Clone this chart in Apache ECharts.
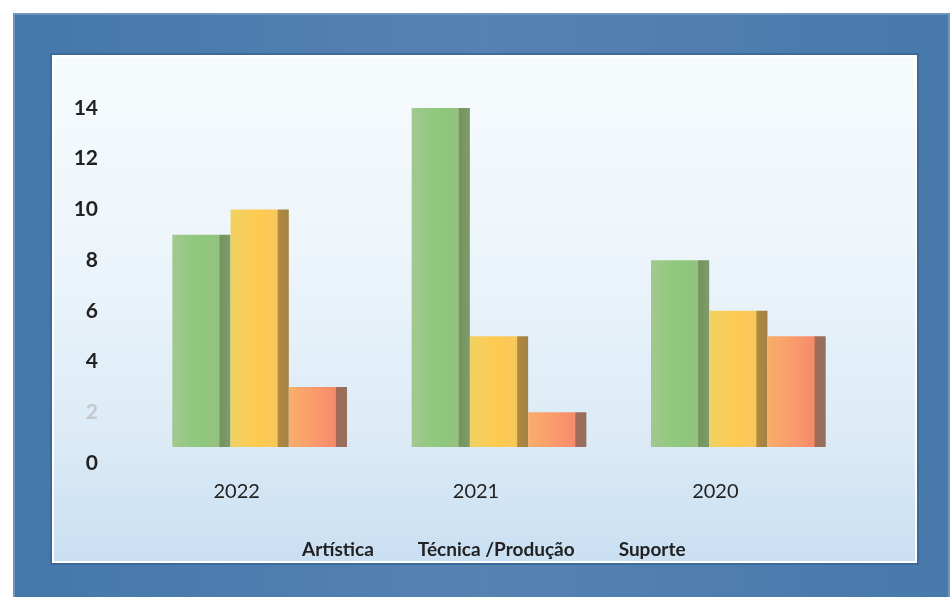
<!DOCTYPE html>
<html>
<head>
<meta charset="utf-8">
<script src="https://cdn.jsdelivr.net/npm/echarts@6/dist/echarts.min.js"></script>
<style>
html,body{margin:0;padding:0;background:#ffffff;}
#c{width:950px;height:597px;}
</style>
</head>
<body>
<div id="c"></div>
<script>
const categories = ['2022', '2021', '2020'];
const seriesNames = ['Artística', 'Técnica /Produção', 'Suporte'];
const artistica = [9, 14, 8];
const tecnica = [10, 5, 6];
const suporte = [3, 2, 5];
const yTicks = [0, 2, 4, 6, 8, 10, 12, 14];

const chart = echarts.init(document.getElementById('c'));

function hGrad(stops) {
  return new echarts.graphic.LinearGradient(0, 0, 1, 0, stops.map((c, i) => ({offset: c[0], color: c[1]})));
}
const bgStops = [
  {offset: 0, color: '#f6fbfd'},
  {offset: 0.35, color: '#eef6fb'},
  {offset: 0.75, color: '#dcebf6'},
  {offset: 1, color: '#c9dff2'}
];
function bgGrad() {
  return new echarts.graphic.LinearGradient(0, 55, 0, 563, bgStops, true);
}

const greenFill = hGrad([[0, '#a3c88f'], [0.4, '#8ec97d'], [0.8, '#93c17f'], [0.82, '#74935f'], [1, '#7f9b6b']]);
const yellowFill = hGrad([[0, '#efd262'], [0.45, '#ffca52'], [0.8, '#f7c85a'], [0.82, '#b08a3f'], [1, '#a38046']]);
const salmonFill = hGrad([[0, '#f8ae6a'], [0.45, '#fb9a6c'], [0.8, '#f58b6a'], [0.82, '#a06b58'], [1, '#94705f']]);

const option = {
  animation: false,
  graphic: [
    {type: 'rect', z: -20, silent: true, shape: {x: 14, y: 14, width: 935, height: 600},
     style: {fill: new echarts.graphic.LinearGradient(0, 0, 1, 0, [
       {offset: 0, color: '#4478aa'}, {offset: 0.5, color: '#5682b2'}, {offset: 1, color: '#4779ab'}]),
       stroke: '#6f95bd', lineWidth: 2}},
    {type: 'rect', z: -19, silent: true, shape: {x: 51, y: 54, width: 867, height: 510},
     style: {fill: '#ffffff', stroke: '#3d6a99', lineWidth: 2}},
    {type: 'rect', z: -18, silent: true, shape: {x: 54, y: 57, width: 861, height: 504},
     style: {fill: bgGrad()}},
    {type: 'rect', z: 100, silent: true, shape: {x: 140, y: 447, width: 725, height: 18},
     style: {fill: bgGrad()}}
  ],
  grid: {left: 140, right: 92, top: 108, bottom: 134, containLabel: false},
  xAxis: {
    type: 'category',
    data: categories,
    axisLine: {show: false},
    axisTick: {show: false},
    axisLabel: {
      margin: 19,
      padding: [0, 46, 0, 0],
      fontFamily: 'Lato',
      fontSize: 20,
      color: '#222222'
    }
  },
  yAxis: {
    type: 'value',
    min: 0, max: 14, interval: 2,
    axisLine: {show: false},
    axisTick: {show: false},
    splitLine: {show: false},
    axisLabel: {
      margin: 42,
      fontFamily: 'Lato',
      fontWeight: 'bold',
      fontSize: 21,
      color: function (v) { return Number(v) === 2 ? '#c4c8cc' : '#222222'; },
      formatter: function (v) { return yTicks.indexOf(v) >= 0 ? String(v) : ''; }
    }
  },
  legend: {
    data: seriesNames,
    left: 292,
    top: 535,
    itemWidth: 0,
    itemHeight: 0,
    itemGap: 39,
    icon: 'rect',
    textStyle: {fontFamily: 'Lato', fontSize: 19, fontWeight: 'bold', color: '#222222'}
  },
  series: [
    {name: seriesNames[0], type: 'bar', data: artistica, barGap: '0%', barCategoryGap: '27%',
     itemStyle: {color: greenFill}},
    {name: seriesNames[1], type: 'bar', data: tecnica,
     itemStyle: {color: yellowFill}},
    {name: seriesNames[2], type: 'bar', data: suporte,
     itemStyle: {color: salmonFill}}
  ]
};
chart.setOption(option);
</script>
</body>
</html>
